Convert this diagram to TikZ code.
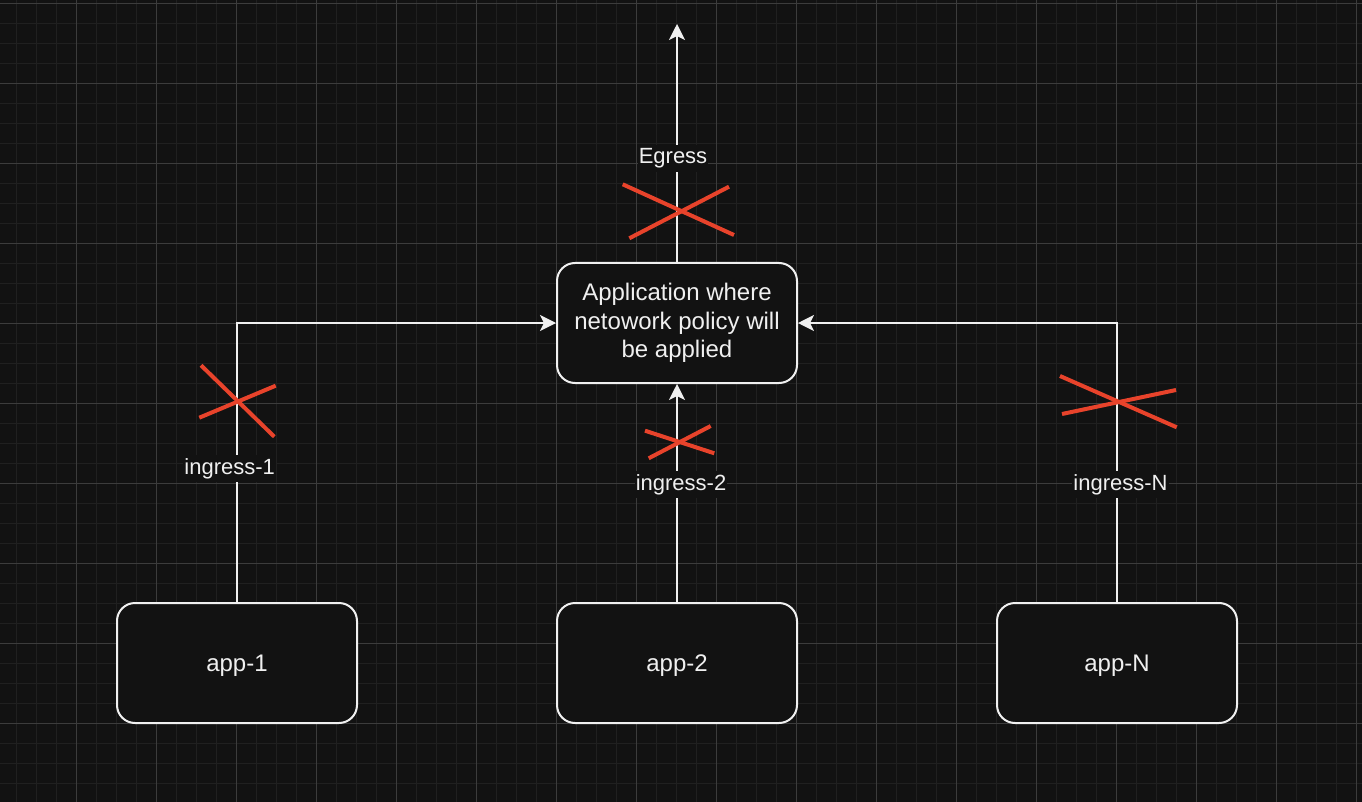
\documentclass[tikz,border=0pt]{standalone}
\usepackage{fontspec}
\setmainfont{Liberation Sans}
\usepackage{tikz}
\usetikzlibrary{arrows.meta}
\definecolor{canvas}{RGB}{18,18,18}
\definecolor{gridminor}{RGB}{32,32,32}
\definecolor{gridmajor}{RGB}{60,60,60}
\definecolor{chalk}{RGB}{240,240,240}
\definecolor{blockred}{RGB}{232,67,43}
\begin{document}
\begin{tikzpicture}[x=1pt,y=-1pt]

%
% Styles
%
\tikzstyle{box}     = [draw=chalk,fill=canvas,line width=2pt,rounded corners=18pt,
                       minimum width=240pt,minimum height=120pt,text=chalk,align=center,
                       font=\fontsize{24}{28.5}\selectfont]
\tikzstyle{appbox}  = [box,text depth=0pt]
\tikzstyle{edge}    = [draw=chalk,line width=2pt,-{Stealth[length=16pt,width=16pt,inset=4pt]}]
\tikzstyle{tag}     = [fill=canvas,text=chalk,inner xsep=1pt,inner ysep=3.5pt,anchor=base,
                       font=\fontsize{22}{26}\selectfont]
\tikzstyle{cross}   = [draw=blockred,line width=4pt]

% background and grid
\useasboundingbox (0,0) rectangle (1362,802);
\fill[canvas] (-5,-5) rectangle (1367,807);
\foreach \x in {16.5,36.5,...,1362} \draw[gridminor,line width=1.2pt] (\x,0) -- (\x,802);
\foreach \y in {3.3,23.3,...,802} \draw[gridminor,line width=1.2pt] (0,\y) -- (1362,\y);
\foreach \x in {76.5,156.5,...,1362} \draw[gridmajor,line width=1pt] (\x,0) -- (\x,802);
\foreach \y in {3.3,83.3,...,802} \draw[gridmajor,line width=1pt] (0,\y) -- (1362,\y);

\node[box]    (policy) at (677,323) {Application where\\netowork policy will\\be applied};
\node[appbox] (app1)   at (237,663) {app-1};
\node[appbox] (app2)   at (677,663) {app-2};
\node[appbox] (appN)   at (1117,663) {app-N};
\coordinate (out) at (677,24);

\draw[edge] (policy.north) -- (out);
\draw[edge] (app1.north) |- (policy.west);
\draw[edge] (app2.north) -- (policy.south);
\draw[edge] (appN.north) |- (policy.east);

\node[tag] (egress)  at (673,164)    {Egress};
\node[tag] (ingA)    at (229.7,474)  {ingress-1};
\node[tag] (ingB)    at (681,490)    {ingress-2};
\node[tag] (ingN)    at (1120.5,490) {ingress-N};

% blocked crosses
\draw[cross] (622.7,184.3) -- (734,235);
\draw[cross] (629.3,238.3) -- (729,186.7);
\draw[cross] (201,365.3) -- (274.3,436.7);
\draw[cross] (199.3,417.7) -- (275.7,385.7);
\draw[cross] (645,430.7) -- (714.3,453.3);
\draw[cross] (648.7,458.3) -- (710.7,426);
\draw[cross] (1060,376) -- (1176.7,427.3);
\draw[cross] (1062,414) -- (1176,390);

\end{tikzpicture}
\end{document}
